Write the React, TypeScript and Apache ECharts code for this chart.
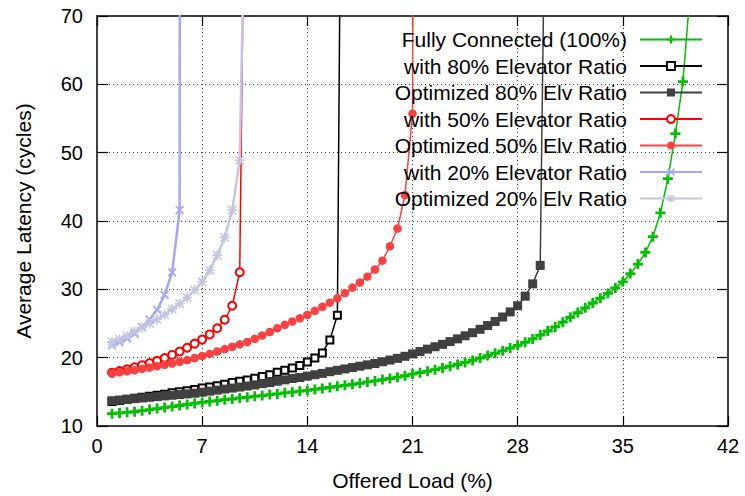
import React, { useEffect, useRef } from "react";
import * as echarts from "echarts";

// Offered load sample points (%)
const LOAD = [
  1, 1.5, 2, 2.5, 3, 3.5, 4, 4.5, 5, 5.5, 6, 6.5, 7, 7.5, 8, 8.5, 9, 9.5, 10, 10.5,
  11, 11.5, 12, 12.5, 13, 13.5, 14, 14.5, 15, 15.5, 16, 16.5, 17, 17.5, 18, 18.5, 19, 19.5, 20, 20.5,
  21, 21.5, 22, 22.5, 23, 23.5, 24, 24.5, 25, 25.5, 26, 26.5, 27, 27.5, 28, 28.5, 29, 29.5, 30, 30.5,
  31, 31.5, 32, 32.5, 33, 33.5, 34, 34.5, 35, 35.5, 36, 36.5, 37, 37.5, 38, 38.5, 39, 39.5,
];

// Average latency (cycles) per series
const FULLY_CONNECTED = [
  11.8, 11.9, 12.0, 12.1, 12.25, 12.4, 12.55, 12.7, 12.85, 13.0, 13.15, 13.3, 13.45, 13.6, 13.7, 13.85, 13.95, 14.1, 14.2, 14.35,
  14.45, 14.6, 14.7, 14.85, 14.95, 15.1, 15.2, 15.35, 15.5, 15.65, 15.8, 15.95, 16.1, 16.25, 16.45, 16.6, 16.8, 16.95, 17.15, 17.35,
  17.6, 17.8, 18.0, 18.25, 18.5, 18.75, 19.0, 19.3, 19.6, 19.95, 20.3, 20.65, 21.0, 21.4, 21.8, 22.25, 22.75, 23.3, 23.9, 24.5,
  25.2, 25.9, 26.6, 27.3, 28.0, 28.7, 29.4, 30.2, 31.1, 32.3, 33.7, 35.4, 37.7, 41.2, 46.2, 52.8, 60.4, 74,
];
const ELV80 = [
  13.6, 13.75, 13.9, 14.05, 14.2, 14.35, 14.5, 14.65, 14.85, 15.0, 15.15, 15.35, 15.55, 15.7, 15.9, 16.1, 16.35, 16.55, 16.75, 17.0,
  17.25, 17.5, 17.85, 18.15, 18.5, 18.85, 19.35, 19.95, 20.7, 22.6, 26.2, 170,
];
const OPT80 = [
  13.7, 13.8, 13.9, 14.0, 14.1, 14.2, 14.3, 14.4, 14.5, 14.6, 14.7, 14.8, 14.95, 15.1, 15.25, 15.4, 15.55, 15.7, 15.85, 16.0,
  16.2, 16.35, 16.55, 16.75, 16.95, 17.1, 17.3, 17.5, 17.7, 17.95, 18.15, 18.35, 18.55, 18.75, 18.95, 19.15, 19.4, 19.65, 19.9, 20.2,
  20.55, 20.9, 21.25, 21.6, 21.95, 22.35, 22.75, 23.2, 23.65, 24.15, 24.7, 25.3, 25.95, 26.7, 27.6, 29.0, 30.8, 33.5, 120,
];
const ELV50 = [
  17.8, 18.05, 18.3, 18.6, 18.9, 19.2, 19.55, 19.95, 20.4, 20.9, 21.45, 22.05, 22.65, 23.4, 24.3, 25.55, 27.6, 32.5, 126,
];
const OPT50 = [
  17.7, 17.85, 18.0, 18.15, 18.35, 18.55, 18.75, 18.95, 19.15, 19.4, 19.65, 19.95, 20.25, 20.55, 20.9, 21.25, 21.6, 21.95, 22.3, 22.75,
  23.25, 23.75, 24.3, 24.8, 25.3, 25.75, 26.25, 26.85, 27.45, 28.05, 28.7, 29.45, 30.25, 31.0, 31.85, 32.9, 34.2, 36.3, 38.9, 43.8,
  55.7, 400,
];
const ELV20 = [21.8, 22.25, 22.8, 23.5, 24.5, 25.6, 27.0, 29.2, 32.5, 41.6, 2000];
const OPT20 = [
  22.3, 22.7, 23.2, 23.8, 24.4, 25.0, 25.6, 26.3, 27.1, 27.9, 28.8, 29.9, 31.1, 32.8, 35.0, 37.6, 41.6, 48.9, 105,
];

const SERIES_NAMES = [
  "Fully Connected (100%)",
  "with 80% Elevator Ratio",
  "Optimized 80% Elv Ratio",
  "with 50% Elevator Ratio",
  "Optimized 50% Elv Ratio",
  "with 20% Elevator Ratio",
  "Optimized 20% Elv Ratio",
];

const X_MIN = 0;
const X_MAX = 42;
const X_STEP = 7;
const Y_MIN = 10;
const Y_MAX = 70;
const Y_STEP = 10;

const FONT = "'Liberation Sans', Arial, Helvetica, sans-serif";

const PLUS = "path://M3.6,0H6.4V3.6H10V6.4H6.4V10H3.6V6.4H0V3.6H3.6Z";
const CROSS =
  "path://M0,1.4L1.4,0L5,3.6L8.6,0L10,1.4L6.4,5L10,8.6L8.6,10L5,6.4L1.4,10L0,8.6L3.6,5Z";
const STAR =
  "path://M4.2,0H5.8V4.2H10V5.8H5.8V10H4.2V5.8H0V4.2H4.2Z M0.3,1.4L1.4,0.3L5,3.9L8.6,0.3L9.7,1.4L6.1,5L9.7,8.6L8.6,9.7L5,6.1L1.4,9.7L0.3,8.6L3.9,5Z";

function pairs(values: number[]) {
  return values.map((v, i) => [LOAD[i], v]);
}

export default function App() {
  const ref = useRef<HTMLDivElement>(null);

  useEffect(() => {
    if (!ref.current) return;
    const chart = echarts.init(ref.current, undefined, { renderer: "svg" });

    const mk = (
      name: string,
      values: number[],
      color: string,
      symbol: string,
      symbolSize: number,
      width: number,
      empty = false
    ) => ({
      name,
      type: "line",
      data: pairs(values),
      symbol,
      symbolSize,
      showSymbol: true,
      clip: true,
      lineStyle: { color, width },
      itemStyle: empty
        ? { color, borderColor: color, borderWidth: 2 }
        : { color },
      emphasis: { disabled: true },
    });

    const axisLine = { show: true, onZero: false, lineStyle: { color: "#000", width: 1.5 } };
    const axisTick = { show: true, inside: true, length: 10, lineStyle: { color: "#000", width: 1.2 } };
    const splitLine = {
      show: true,
      showMinLine: false,
      showMaxLine: false,
      lineStyle: { color: "#444", width: 1, type: [1, 3] },
    };

    chart.setOption({
      animation: false,
      backgroundColor: "#fff",
      grid: { left: 97, right: 17, top: 16, bottom: 66, containLabel: false },
      xAxis: [
        {
          type: "value",
          min: X_MIN,
          max: X_MAX,
          interval: X_STEP,
          position: "bottom",
          axisLine,
          axisTick,
          splitLine,
          axisLabel: { fontSize: 20, color: "#000", margin: 10, fontFamily: FONT },
          name: "Offered Load (%)",
          nameLocation: "middle",
          nameGap: 44,
          nameTextStyle: { fontSize: 21, color: "#000", fontFamily: FONT },
        },
        {
          type: "value",
          min: X_MIN,
          max: X_MAX,
          interval: X_STEP,
          position: "top",
          axisLine,
          axisTick,
          splitLine: { show: false },
          axisLabel: { show: false },
        },
      ],
      yAxis: [
        {
          type: "value",
          min: Y_MIN,
          max: Y_MAX,
          interval: Y_STEP,
          position: "left",
          axisLine,
          axisTick: { ...axisTick, length: 11 },
          splitLine,
          axisLabel: { fontSize: 20, color: "#000", margin: 14, fontFamily: FONT },
          name: "Average Latency (cycles)",
          nameLocation: "middle",
          nameGap: 63,
          nameTextStyle: { fontSize: 21, color: "#000", fontFamily: FONT },
        },
        {
          type: "value",
          min: Y_MIN,
          max: Y_MAX,
          interval: Y_STEP,
          position: "right",
          axisLine,
          axisTick: { ...axisTick, length: 11 },
          splitLine: { show: false },
          axisLabel: { show: false },
        },
      ],
      legend: {
        orient: "vertical",
        right: 42,
        top: 29,
        align: "right",
        padding: 0,
        itemWidth: 62,
        itemHeight: 10,
        itemGap: 5.5,
        selectedMode: false,
        textStyle: { fontSize: 21, color: "#000", fontFamily: FONT, padding: [0, 8, 0, 0] },
        data: SERIES_NAMES,
      },
      series: [
        mk(SERIES_NAMES[0], FULLY_CONNECTED, "#00c000", PLUS, 10, 1.5),
        mk(SERIES_NAMES[1], ELV80, "#000000", "emptyRect", 7, 1.5, true),
        mk(SERIES_NAMES[2], OPT80, "#404040", "rect", 9, 1.5),
        mk(SERIES_NAMES[3], ELV50, "#ff0000", "emptyCircle", 8, 1.5, true),
        mk(SERIES_NAMES[4], OPT50, "#ff4040", "circle", 8.5, 1.5),
        mk(SERIES_NAMES[5], ELV20, "#a4a8f8", CROSS, 9, 2.5),
        mk(SERIES_NAMES[6], OPT20, "#c4c6e0", STAR, 10, 2.5),
      ],
    });

    return () => chart.dispose();
  }, []);

  return (
    <div
      ref={ref}
      style={{ position: "fixed", left: 0, top: 0, width: 745, height: 496, background: "#fff" }}
    />
  );
}
